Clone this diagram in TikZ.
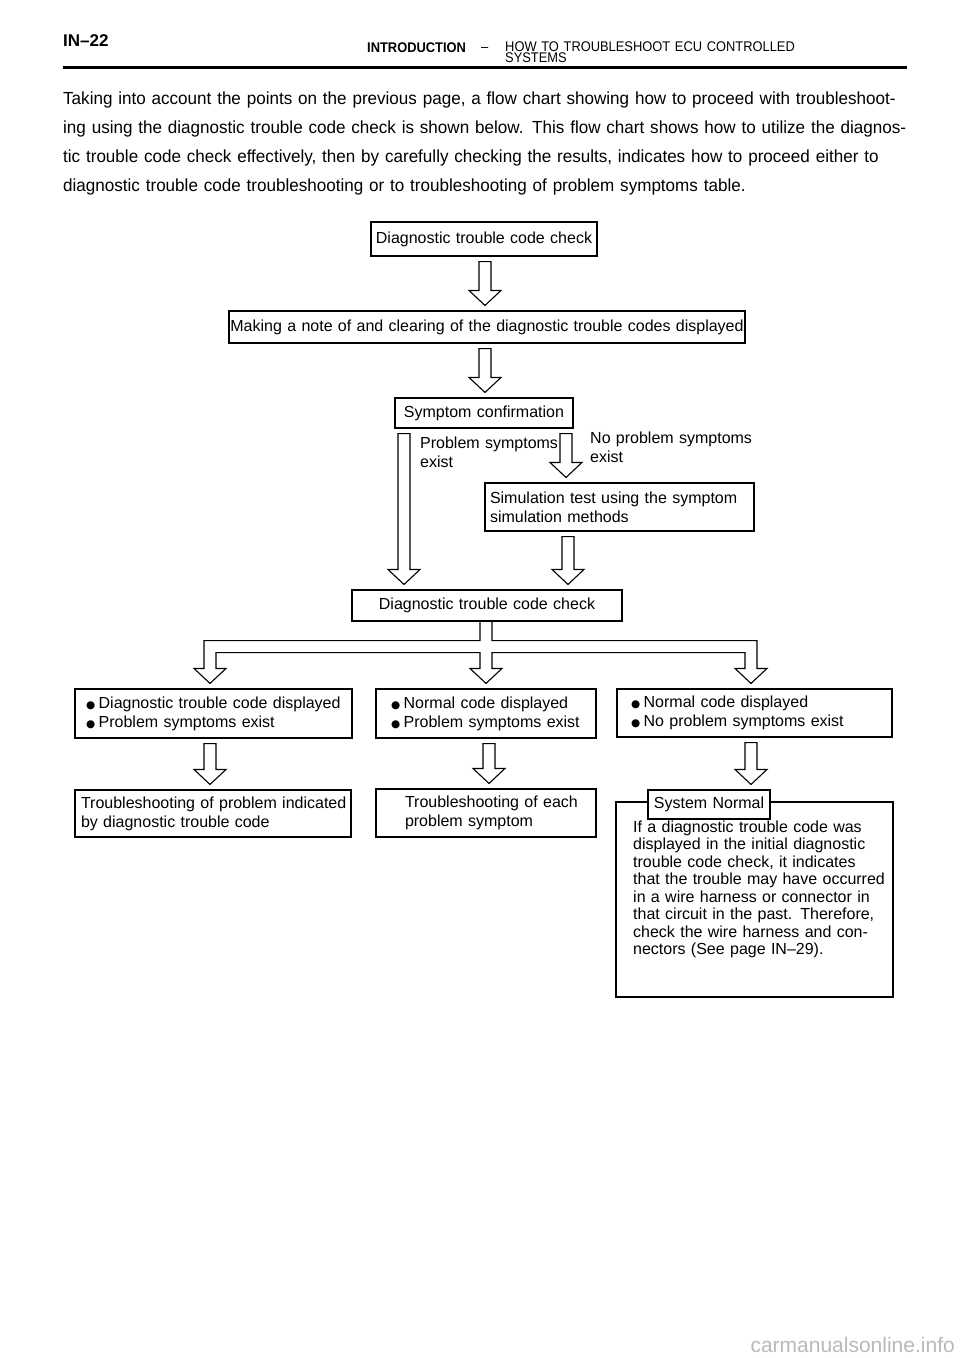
\documentclass[tikz,border=0pt]{standalone}
\usepackage{fontspec}
\setmainfont{Liberation Sans}
\newfontfamily\hdrfont[FakeStretch=0.92]{Liberation Sans}
\newfontfamily\parfont[FakeStretch=0.975]{Liberation Sans}
\newfontfamily\djv{DejaVu Sans}
\usetikzlibrary{calc}
\newcommand\bul{{\djv\fontsize{10.5}{10.5}\selectfont ●}\hspace{3.5pt}}
\newcommand\ind[1]{\hspace*{#1pt}}
\newcommand\blkarrow[3]{%
  \draw[blk] let \p1=(#1,0 |- #2.south), \p2=(#1,0 |- #3.north) in
   (\x1-6pt,\y1-5pt) -- (\x1-6pt,\y2+20pt) -- (\x1-16pt,\y2+20pt) -- (\x1,\y2+5pt)
   -- (\x1+16pt,\y2+20pt) -- (\x1+6pt,\y2+20pt) -- (\x1+6pt,\y1-5pt) -- cycle;}
\begin{document}
\begin{tikzpicture}[x=1pt,y=-1pt,
  box/.style={draw, line width=1.1pt, inner sep=0pt, align=center,
    font=\fontsize{16}{19}\selectfont},
  lbox/.style={box, align=left},
  blk/.style={draw, line width=1.1pt, line join=miter},
  txt/.style={inner sep=0pt, align=left, font=\fontsize{16}{19}\selectfont}]
\useasboundingbox (0,0) rectangle (960,1358);
\fill[white] (0,0) rectangle (960,1358);
% header
\node[anchor=base west, inner sep=0pt, font=\bfseries\fontsize{17}{17}\selectfont] (pg) at (63,46) {IN–22};
\node[anchor=base west, inner sep=0pt, font=\hdrfont\bfseries\fontsize{14}{14}\selectfont] (intro) at (367,52) {INTRODUCTION};
\node[anchor=base west, inner sep=0pt, font=\hdrfont\fontsize{14}{14}\selectfont] (dash) at (481,51) {–};
\node[anchor=base west, inner sep=0pt, align=left, text width=320pt, font=\hdrfont\fontsize{14}{11.5}\selectfont] (title) at (505,51) {HOW TO TROUBLESHOOT ECU CONTROLLED\\SYSTEMS};
\draw[line width=2.6pt] (63,67.5) -- (907,67.5);
% intro paragraph
\node[anchor=base west, inner sep=0pt, align=left, text width=844pt, font=\parfont\fontsize{17.5}{29}\selectfont] (para) at (63,104) {%
\makebox[844pt][s]{Taking into account the points on the previous page, a flow chart showing how to proceed with troubleshoot-}\\
\makebox[844pt][s]{ing using the diagnostic trouble code check is shown below. This flow chart shows how to utilize the diagnos-}\\
\makebox[844pt][s]{tic trouble code check effectively, then by carefully checking the results, indicates how to proceed either to}\\
diagnostic trouble code troubleshooting or to troubleshooting of problem symptoms table.};
% flow boxes
\node[box, minimum width=226pt, minimum height=34pt, text width=226pt] (b1) at (484,239) {Diagnostic trouble code check};
\node[box, minimum width=516pt, minimum height=32pt, text width=516pt] (b2) at (487,327) {Making a note of and clearing of the diagnostic trouble codes displayed};
\node[box, minimum width=178pt, minimum height=30pt, text width=178pt] (b3) at (484,413) {Symptom confirmation};
\node[lbox, minimum width=269pt, minimum height=48pt, text width=269pt] (b4) at (619.5,507) {\ind{5}Simulation test using the symptom\\\ind{5}simulation methods};
\node[box, minimum width=270pt, minimum height=31pt, text width=270pt] (b5) at (487,605.5) {Diagnostic trouble code check};
\node[txt, anchor=base west, text width=150pt] (ps) at (420,448) {Problem symptoms\\exist};
\node[txt, anchor=base west, text width=180pt] (nps) at (590,443) {No problem symptoms\\exist};
% result boxes
\node[lbox, minimum width=277pt, minimum height=49pt, text width=277pt] (B1) at (213.5,713.5) {\ind{11}\bul Diagnostic trouble code displayed\\\ind{11}\bul Problem symptoms exist};
\node[lbox, minimum width=220pt, minimum height=49pt, text width=220pt] (B2) at (486,713.5) {\ind{15}\bul Normal code displayed\\\ind{15}\bul Problem symptoms exist};
\node[lbox, minimum width=275pt, minimum height=48pt, text width=275pt] (B3) at (754.5,713) {\ind{14}\bul Normal code displayed\\\ind{14}\bul No problem symptoms exist};
\node[lbox, minimum width=276pt, minimum height=47pt, text width=276pt] (C1) at (213,813.5) {\ind{6}Troubleshooting of problem indicated\\\ind{6}by diagnostic trouble code};
\node[lbox, minimum width=220pt, minimum height=48pt, text width=220pt] (C2) at (486,813) {\ind{29}Troubleshooting of each\\\ind{29}problem symptom};
\node[box, minimum width=277pt, minimum height=195pt] (snbox) at (754.5,899.5) {};
\node[box, fill=white, minimum width=122pt, minimum height=29pt, text width=122pt] (snlbl) at (709,804.5) {System Normal};
\node[txt, anchor=base west, text width=254pt, font=\fontsize{16}{17.5}\selectfont] (sntext) at (633,832) {%
If a diagnostic trouble code was\\
\makebox[254pt][s]{displayed in the initial diagnostic}\\
\makebox[254pt][s]{trouble code check, it indicates}\\
\makebox[254pt][s]{that the trouble may have occurred}\\
\makebox[254pt][s]{in a wire harness or connector in}\\
\makebox[254pt][s]{that circuit in the past. Therefore,}\\
\makebox[254pt][s]{check the wire harness and con-}\\
nectors (See page IN–29).};
% arrows
\blkarrow{485}{b1}{b2}
\blkarrow{485}{b2}{b3}
\blkarrow{404}{b3}{b5}
\blkarrow{566}{b3}{b4}
\blkarrow{568}{b4}{b5}
\blkarrow{210}{B1}{C1}
\blkarrow{489}{B2}{C2}
\blkarrow{751}{B3}{snlbl}
% branching arrow
\draw[blk] let \p1=(486,0 |- b5.south), \p2=(210,0 |- B1.north), \p3=(486,0 |- B2.north), \p4=(751,0 |- B3.north) in
  (\x1-6pt,\y1) -- (\x1-6pt,\y1-19pt) -- (\x2-6pt,\y1-19pt) -- (\x2-6pt,\y2+20pt) -- (\x2-16pt,\y2+20pt) -- (\x2,\y2+5pt)
  -- (\x2+16pt,\y2+20pt) -- (\x2+6pt,\y2+20pt) -- (\x2+6pt,\y1-31pt) -- (\x3-6pt,\y1-31pt) -- (\x3-6pt,\y3+20pt)
  -- (\x3-16pt,\y3+20pt) -- (\x3,\y3+5pt) -- (\x3+16pt,\y3+20pt) -- (\x3+6pt,\y3+20pt) -- (\x3+6pt,\y1-31pt)
  -- (\x4-6pt,\y1-31pt) -- (\x4-6pt,\y4+20pt) -- (\x4-16pt,\y4+20pt) -- (\x4,\y4+5pt) -- (\x4+16pt,\y4+20pt)
  -- (\x4+6pt,\y4+20pt) -- (\x4+6pt,\y1-19pt) -- (\x1+6pt,\y1-19pt) -- (\x1+6pt,\y1);
% watermark
\node[anchor=base east, inner sep=0pt, text=gray!55, font=\fontsize{21}{21}\selectfont] (wm) at (955,1352) {carmanualsonline.info};
\end{tikzpicture}
\end{document}
